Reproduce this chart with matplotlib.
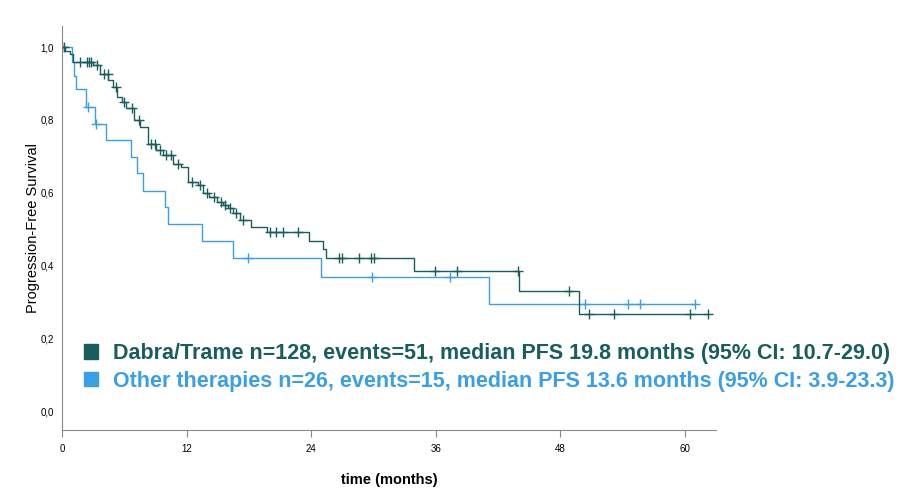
import matplotlib
matplotlib.use("Agg")
import matplotlib.pyplot as plt
import numpy as np
from matplotlib.patches import Patch

plt.rcParams['font.family'] = ['Liberation Sans', 'DejaVu Sans']

# Kaplan-Meier step curves (time in months, survival)
green_t = [0, 0.3, 0.8, 1.1, 3.0, 3.65, 4.45, 4.9, 5.3, 5.8, 6.2, 6.9, 7.5, 8.3, 9.1,
           9.7, 10.7, 11.5, 12.1, 13.1, 13.6, 14.2, 14.9, 15.5, 16.0, 16.5, 17.1, 18.2,
           19.7, 23.8, 25.1, 25.4, 33.9, 44.0, 49.8, 62.2]
green_s = [1.0, 0.99, 0.982, 0.959, 0.95, 0.927, 0.909, 0.89, 0.864, 0.85, 0.832, 0.80,
           0.781, 0.735, 0.717, 0.703, 0.68, 0.671, 0.63, 0.621, 0.60, 0.589, 0.575,
           0.566, 0.557, 0.543, 0.525, 0.506, 0.493, 0.467, 0.444, 0.42, 0.386, 0.331,
           0.266, 0.266]
green_cens = [0, 0.2, 1.7, 2.4, 2.6, 2.8, 3.4, 4.0, 4.4, 5.2, 6.0, 6.7, 7.4, 8.6, 9.0,
              9.4, 10.0, 10.5, 11.2, 12.5, 13.3, 14.0, 14.6, 15.3, 15.7, 16.2, 16.8,
              17.4, 20.0, 20.6, 21.3, 22.7, 26.7, 27.0, 28.6, 29.8, 30.1, 35.9, 38.0,
              43.9, 48.8, 50.8, 53.2, 60.5, 62.2]

blue_t = [0, 0.93, 1.2, 1.35, 2.3, 3.2, 4.2, 6.6, 7.2, 7.8, 9.9, 10.2, 13.5, 16.5,
          24.9, 41.1, 61.0]
blue_s = [1.0, 0.96, 0.92, 0.885, 0.836, 0.79, 0.745, 0.699, 0.653, 0.606, 0.561,
          0.514, 0.467, 0.42, 0.368, 0.295, 0.295]
blue_cens = [2.5, 3.3, 17.9, 29.9, 37.4, 50.4, 54.5, 55.7, 61.0]

labels = ["Dabra/Trame n=128, events=51, median PFS 19.8 months (95% CI: 10.7-29.0)",
          "Other therapies n=26, events=15, median PFS 13.6 months (95% CI: 3.9-23.3)"]
x_ticks = [0, 12, 24, 36, 48, 60]
y_ticks = [0.0, 0.2, 0.4, 0.6, 0.8, 1.0]

c_green = '#185e5c'
c_blue = '#3a9fe6'


def surv_at(ts, ss, t):
    idx = np.searchsorted(ts, t, side='right') - 1
    return np.array(ss)[idx]


fig = plt.figure(figsize=(9.16, 4.98), dpi=100)
ax = fig.add_axes([0.0677, 0.1365, 0.714, 0.8113])

ax.step(blue_t, blue_s, where='post', color=c_blue, lw=1.0)
ax.plot(blue_cens, surv_at(blue_t, blue_s, blue_cens), ls='none', marker='+',
        ms=7, mew=1.0, color=c_blue)
ax.step(green_t, green_s, where='post', color=c_green, lw=1.0)
ax.plot(green_cens, surv_at(green_t, green_s, green_cens), ls='none', marker='+',
        ms=7, mew=1.0, color=c_green)

ax.set_xlim(0, 63)
ax.set_ylim(-0.052, 1.058)
ax.set_xticks(x_ticks)
ax.set_xticklabels([str(v) for v in x_ticks], fontsize=7)
ax.set_yticks(y_ticks)
ax.set_yticklabels([f"{v:.1f}".replace('.', ',') for v in y_ticks], fontsize=7)
ax.tick_params(axis='y', length=0, pad=6)
ax.tick_params(axis='x', length=5, color='#888888', pad=5)
for s in ['top', 'right']:
    ax.spines[s].set_visible(False)
for s in ['left', 'bottom']:
    ax.spines[s].set_color('#888888')

ax.set_xlabel('time (months)', fontsize=10.5, fontweight='bold', labelpad=14)
ax.set_ylabel('Progression-Free Survival', fontsize=10.5, labelpad=0)

handles = [Patch(color=c_green), Patch(color=c_blue)]
leg = fig.legend(handles, labels, loc='upper left', bbox_to_anchor=(0.08, 0.333),
                 frameon=False, handlelength=0.65, handleheight=0.65,
                 handletextpad=0.7, labelspacing=0.32, borderpad=0,
                 prop={'size': 15.5, 'weight': 'bold'})
for txt, c in zip(leg.get_texts(), [c_green, c_blue]):
    txt.set_color(c)

fig.savefig('out.png', dpi=100)
